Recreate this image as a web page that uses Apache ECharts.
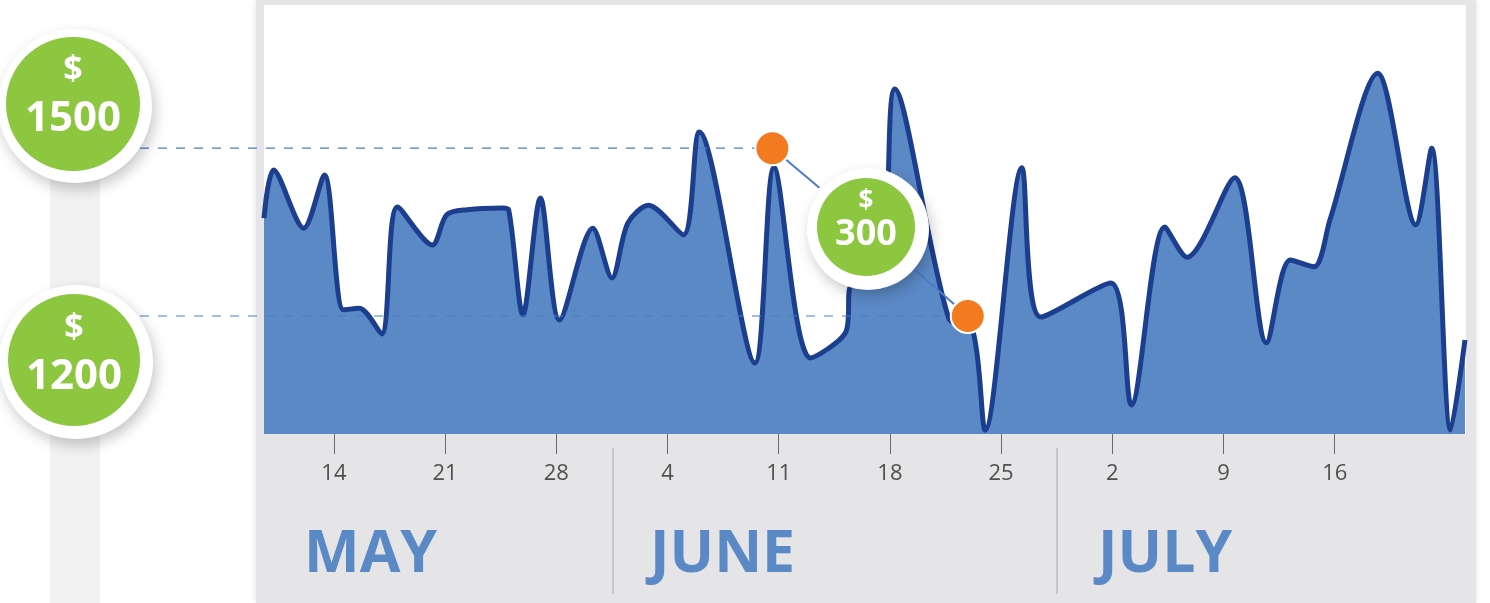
<!DOCTYPE html>
<html>
<head>
<meta charset="utf-8">
<title>Sales May - July</title>
<script src="https://cdn.jsdelivr.net/npm/echarts@6/dist/echarts.min.js"></script>
<style>
  html, body { margin: 0; padding: 0; background: #fff; }
  #chart { width: 1490px; height: 603px; }
</style>
</head>
<body>
<div id="chart"></div>
<script>
// day number counted from May 1 (May 14 = 13)
const days = [8.6, 9.2, 11.1, 12.4, 13.6, 14.6, 16.0, 17.0, 19.2, 20.1, 21.4, 23.6, 24.0, 24.9, 26.0, 27.2,
  29.3, 30.5, 31.5, 32.8, 35.0, 36.0, 39.5, 40.7, 43.0, 45.2, 45.6, 47.4, 48.3, 51.7, 53.2, 54.0,
  56.3, 57.5, 61.9, 63.2, 65.3, 66.7, 69.7, 71.7, 73.2, 74.7, 75.7, 78.7, 81.1, 82.1, 83.3, 84.2];
const sales = [1375, 1461, 1357, 1452, 1211, 1214, 1168, 1395, 1327, 1381, 1390, 1393, 1390, 1202, 1411, 1193,
  1357, 1268, 1366, 1398, 1345, 1529, 1116, 1466, 1125, 1170, 1255, 1257, 1606, 1196, 1175, 996,
  1465, 1198, 1259, 1041, 1359, 1305, 1447, 1152, 1300, 1288, 1372, 1634, 1363, 1500, 996, 1157];

const tickDays = [13, 20, 27, 34, 41, 48, 55, 62, 69, 76];
const tickLabels = ['14', '21', '28', '4', '11', '18', '25', '2', '9', '16'];
const months = ['MAY', 'JUNE', 'JULY'];

// highlighted points and their price levels
const markDays = [40.6, 52.9];
const markValues = [1500, 1200];
const levelLabels = ['1500', '1200'];
const changeLabel = '300';

const FONT = '"Open Sans", "Noto Sans", sans-serif';
const GREEN = '#8dc63f';
const FILL = '#5b89c6';
const LINE = '#1c3e8e';

const chart = echarts.init(document.getElementById('chart'));

chart.setOption({
  animation: false,
  grid: { left: 264, right: 25, top: 0, bottom: 169 },
  xAxis: {
    type: 'value',
    min: 8.6,
    max: 84.2,
    axisLine: { show: false },
    splitLine: { show: false },
    axisTick: {
      show: true,
      customValues: tickDays,
      length: 20,
      lineStyle: { color: '#6a6a6a', width: 1 }
    },
    axisLabel: {
      customValues: tickDays,
      formatter: v => tickLabels[tickDays.indexOf(v)],
      margin: 29,
      color: '#505050',
      fontSize: 22,
      fontFamily: FONT
    }
  },
  yAxis: { type: 'value', min: 989, max: 1765, show: false },
  series: [
    {
      type: 'line',
      data: days.map((d, i) => [d, sales[i]]),
      smooth: 0.3,
      symbol: 'none',
      lineStyle: { width: 5, color: LINE, join: 'round' },
      areaStyle: { color: FILL, opacity: 1 },
      z: 2
    },
    {
      type: 'scatter',
      data: markDays.map((d, i) => [d, markValues[i]]),
      symbolSize: 34,
      itemStyle: { color: '#f37a1f', borderColor: '#fff', borderWidth: 2, opacity: 1 },
      z: 4
    }
  ]
});

const p1 = chart.convertToPixel({ gridIndex: 0 }, [markDays[0], markValues[0]]);
const p2 = chart.convertToPixel({ gridIndex: 0 }, [markDays[1], markValues[1]]);

function text(x, y, str, size, color, align, z) {
  return {
    type: 'text', x: x, y: y, z: z,
    style: { text: str, fill: color, font: 'bold ' + size + 'px ' + FONT, align: align || 'center', verticalAlign: 'middle' }
  };
}

function bubble(cx, cy, rIn, rOut, label, small, big, dTop, dBottom) {
  return [
    {
      type: 'circle', z: 6, shape: { cx: cx + 2, cy: cy + 2, r: rOut },
      style: { fill: '#fff', shadowBlur: 14, shadowOffsetX: 3, shadowOffsetY: 6, shadowColor: 'rgba(0,0,0,0.22)' }
    },
    { type: 'circle', z: 7, shape: { cx: cx, cy: cy, r: rIn }, style: { fill: GREEN } },
    text(cx, cy + dTop, '$', small, '#fff', 'center', 8),
    text(cx, cy + dBottom, label, big, '#fff', 'center', 8)
  ];
}

const bubbleC = [866, 227];
function connector(p, rOut) {
  const dx = bubbleC[0] - p[0], dy = bubbleC[1] - p[1];
  const len = Math.sqrt(dx * dx + dy * dy);
  return {
    type: 'line', z: 3,
    shape: { x1: p[0] + dx / len * 18, y1: p[1] + dy / len * 18, x2: p[0] + dx / len * (len - rOut), y2: p[1] + dy / len * (len - rOut) },
    style: { stroke: '#4a7cc9', lineWidth: 2 }
  };
}

const elements = [
  // card behind the plot
  { type: 'rect', z: 0, shape: { x: 256, y: 0, width: 1220, height: 603 }, style: { fill: '#e5e5e7', shadowBlur: 6, shadowColor: 'rgba(0,0,0,0.12)' } },
  { type: 'rect', z: 0, shape: { x: 264, y: 5, width: 1202, height: 429 }, style: { fill: '#fff' } },
  // left rail
  { type: 'rect', z: 0, shape: { x: 50, y: 150, width: 50, height: 453 }, style: { fill: '#f2f2f2' } },
  // month separators
  { type: 'line', z: 1, shape: { x1: 613, y1: 448, x2: 613, y2: 594 }, style: { stroke: '#bcbcbc', lineWidth: 1.5 } },
  { type: 'line', z: 1, shape: { x1: 1057, y1: 448, x2: 1057, y2: 594 }, style: { stroke: '#bcbcbc', lineWidth: 1.5 } },
  text(304, 555, months[0], 59, FILL, 'left', 1),
  text(650, 555, months[1], 59, FILL, 'left', 1),
  text(1098, 555, months[2], 59, FILL, 'left', 1),
  // dashed guide lines
  { type: 'line', z: 3, shape: { x1: 140, y1: p1[1], x2: p1[0], y2: p1[1] }, style: { stroke: '#4a7cc9', lineWidth: 1.2, lineDash: [9, 9] } },
  { type: 'line', z: 3, shape: { x1: 140, y1: p2[1], x2: p2[0], y2: p2[1] }, style: { stroke: '#4a7cc9', lineWidth: 1.2, lineDash: [9, 9] } },
  connector(p1, 61),
  connector(p2, 61)
];

elements.push(...bubble(73, 104, 67, 77, levelLabels[0], 34, 42, -34, 15));
elements.push(...bubble(74, 360, 66, 77, levelLabels[1], 34, 42, -32, 17));
elements.push(...bubble(bubbleC[0], bubbleC[1], 49, 61, changeLabel, 26, 36, -25, 8));

chart.setOption({ graphic: { elements: elements } });
</script>
</body>
</html>
